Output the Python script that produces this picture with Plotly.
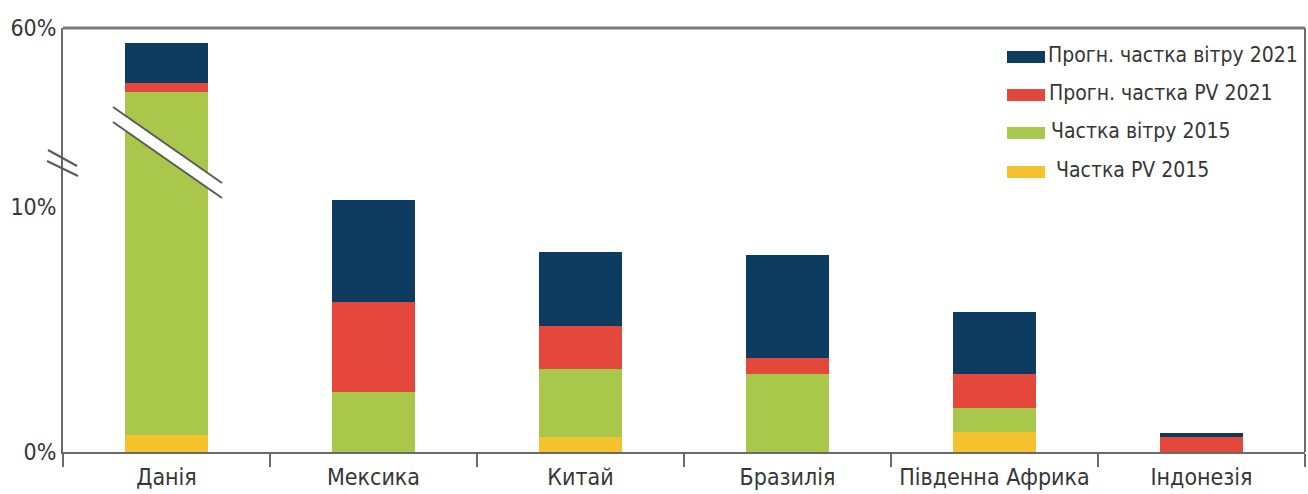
import plotly.graph_objects as go

# Countries and stacked shares (percentage points, each segment's own height)
countries = ["Данія", "Мексика", "Китай", "Бразилія", "Південна Африка", "Індонезія"]
pv_2015 = [0.7, 0.0, 0.6, 0.0, 0.8, 0.0]
wind_2015 = [41.4, 2.45, 2.8, 3.2, 1.0, 0.0]
pv_2021 = [2.5, 3.67, 1.75, 0.65, 1.4, 0.6]
wind_2021 = [11.2, 4.17, 3.0, 4.2, 2.5, 0.18]

series_names = ["Частка PV 2015", "Частка вітру 2015", "Прогн. частка PV 2021", "Прогн. частка вітру 2021"]
series_colors = ["#f3c22c", "#a9c84b", "#e4473b", "#0e3b60"]
series_values = [pv_2015, wind_2015, pv_2021, wind_2021]

# Broken value axis: lower part 0..LOW_MAX, upper part HIGH_MIN..60
LOW_MAX = 11.5
HIGH_MIN = 20.3
SPLIT = 0.665
low_ticks = [0, 10]
low_ticktext = ["0%", "10%"]
high_ticks = [60]
high_ticktext = ["60%"]

W, H = 1308, 494
ML, MR, MT, MB = 63, 3, 28, 42
PW, PH = W - ML - MR, H - MT - MB

FONT = "DejaVu Sans Condensed, Liberation Sans Narrow, DejaVu Sans, sans-serif"
AXIS_COLOR = "#6a6a6a"
TEXT_COLOR = "#363636"


def px_x(px):
    return (px - ML) / PW


def px_y(py):
    return (H - MB - py) / PH


fig = go.Figure()
for name, color, vals in zip(series_names, series_colors, series_values):
    for xa, ya in (("x", "y"), ("x2", "y2")):
        fig.add_trace(go.Bar(
            x=countries, y=vals, name=name, xaxis=xa, yaxis=ya,
            marker=dict(color=color, line=dict(width=0)),
            width=0.4, showlegend=False, hoverinfo="x+y+name",
        ))

shapes = []
# frame: top and right edges
shapes.append(dict(type="line", xref="paper", yref="paper", x0=0, x1=1, y0=1, y1=1,
                   line=dict(color="#7a7a7a", width=3)))
shapes.append(dict(type="line", xref="paper", yref="paper", x0=1, x1=1, y0=0, y1=1,
                   line=dict(color=AXIS_COLOR, width=2)))

# break symbol across the tall bar
p1a, p1b = (113, 107), (222, 183)
p2a, p2b = (113, 122), (222, 198)
shapes.append(dict(
    type="path", xref="paper", yref="paper",
    path=(f"M{px_x(p1a[0])},{px_y(p1a[1])} L{px_x(p1b[0])},{px_y(p1b[1])} "
          f"L{px_x(p2b[0])},{px_y(p2b[1])} L{px_x(p2a[0])},{px_y(p2a[1])} Z"),
    fillcolor="white", line=dict(width=0),
))
for a, b in ((p1a, p1b), (p2a, p2b)):
    shapes.append(dict(type="line", xref="paper", yref="paper",
                       x0=px_x(a[0]), y0=px_y(a[1]), x1=px_x(b[0]), y1=px_y(b[1]),
                       line=dict(color="#5a5a5a", width=2)))

# break symbol on the value axis
for a, b in (((48, 150), (77, 166)), ((47, 161), (78, 176))):
    shapes.append(dict(type="line", xref="paper", yref="paper",
                       x0=px_x(a[0]), y0=px_y(a[1]), x1=px_x(b[0]), y1=px_y(b[1]),
                       line=dict(color="#5a5a5a", width=2)))

# legend drawn as swatches + labels, top row first
legend_rows = [
    (series_names[3], series_colors[3], 57, 1046),
    (series_names[2], series_colors[2], 95, 1047),
    (series_names[1], series_colors[1], 133, 1049),
    (series_names[0], series_colors[0], 172, 1054),
]
annotations = []
for name, color, yc, tx in legend_rows:
    shapes.append(dict(type="rect", xref="paper", yref="paper",
                       x0=px_x(1007), x1=px_x(1045), y0=px_y(yc + 6), y1=px_y(yc - 6),
                       fillcolor=color, line=dict(width=0)))
    annotations.append(dict(xref="paper", yref="paper", x=px_x(tx), y=px_y(yc - 2),
                            xanchor="left", yanchor="middle", text=name, showarrow=False,
                            font=dict(family=FONT, size=21, color=TEXT_COLOR)))

fig.update_layout(
    width=W, height=H,
    margin=dict(l=ML, r=MR, t=MT, b=MB, autoexpand=False),
    paper_bgcolor="white", plot_bgcolor="white",
    barmode="stack", bargap=0.6,
    showlegend=False,
    font=dict(family=FONT, size=22, color=TEXT_COLOR),
    shapes=shapes, annotations=annotations,
    xaxis=dict(
        anchor="y", type="category", range=[-0.5, 5.5],
        tickson="boundaries", ticks="outside", ticklen=13, tickwidth=2, tickcolor=AXIS_COLOR,
        showline=True, linecolor=AXIS_COLOR, linewidth=2, showgrid=False,
        tickangle=0, automargin=False, ticklabelstandoff=3,
        tickfont=dict(family=FONT, size=23, color=TEXT_COLOR),
    ),
    xaxis2=dict(
        anchor="y2", matches="x", showticklabels=False, showline=False,
        showgrid=False, ticks="",
    ),
    yaxis=dict(
        domain=[0, SPLIT], range=[0, LOW_MAX], tickvals=low_ticks, ticktext=low_ticktext,
        showline=True, linecolor=AXIS_COLOR, linewidth=2, showgrid=False, zeroline=False,
        ticks="", automargin=False, tickfont=dict(family=FONT, size=23, color=TEXT_COLOR),
    ),
    yaxis2=dict(
        domain=[SPLIT, 1], range=[HIGH_MIN, 60], tickvals=high_ticks, ticktext=high_ticktext,
        showline=True, linecolor=AXIS_COLOR, linewidth=2, showgrid=False, zeroline=False,
        ticks="", automargin=False, tickfont=dict(family=FONT, size=23, color=TEXT_COLOR),
    ),
)

fig.write_html("out.html")
